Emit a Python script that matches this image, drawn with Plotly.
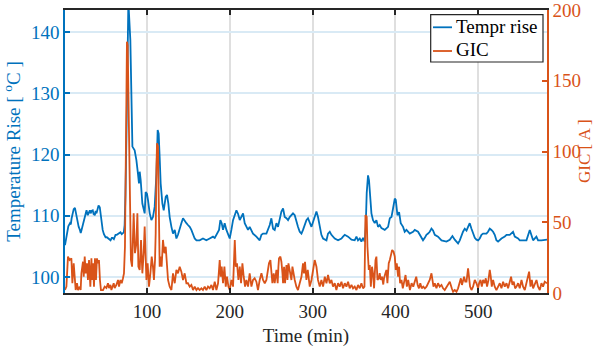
import plotly.graph_objects as go

# ---- Data ----
# Temperature rise [°C] vs time (min): (time, value)
temp_points = [
    (1, 105.2), (2, 105.9), (3, 106.5), (4, 107.7), (5, 108.3), (7, 108.8), (8, 108.6), (9, 109.6),
    (10, 110.4), (11.5, 111.1), (13, 111.3), (14, 110.6), (15, 109.8), (16, 109.0), (17.5, 108.2),
    (19, 107.7), (20, 107.2), (21, 107.7), (22, 108.3), (23.5, 109.0), (25, 109.8), (26, 110.6),
    (27, 110.9), (28.5, 110.1), (29.5, 110.4), (31, 110.9), (32, 110.4), (33, 110.8), (34.5, 110.9),
    (35.5, 110.3), (37, 110.1), (38, 110.8), (39, 110.4), (40.5, 111.3), (41.5, 111.7), (43, 111.4),
    (44, 110.1), (45, 109.0), (46.5, 107.7), (48, 107.0), (49, 106.7), (50, 106.5), (51.5, 106.5),
    (52.5, 106.4), (54, 106.2), (55, 106.2), (56, 106.0), (57.5, 106.4), (58.5, 106.4), (60, 106.2),
    (61, 106.5), (62, 106.9), (63.5, 106.9), (64.5, 107.0), (66, 107.2), (67, 107.3), (68, 107.3),
    (69.5, 107.0), (70.5, 107.2), (72, 107.3), (73, 108.5), (74, 113.4), (75.5, 125.6), (76.5, 145.0),
    (77.5, 145.0), (79.9, 138.7), (81.2, 128.9), (82.4, 121.3), (85.1, 120.7), (87.2, 119.1),
    (89.1, 116.9), (90.3, 115.3), (91.2, 117.2), (92.4, 115.8), (94.4, 112.0), (97.2, 110.4),
    (98.4, 113.9), (100.0, 113.6), (101.2, 112.6), (103.3, 110.4), (105.3, 109.3), (107.2, 109.8),
    (109.3, 111.5), (111.4, 116.9), (112.9, 124.0), (114.1, 123.4), (115.3, 119.6), (116.5, 115.3),
    (118.6, 112.0), (120.2, 110.9), (122.6, 113.1), (124.2, 113.4), (125.8, 112.0), (127.4, 109.8),
    (129.5, 108.2), (131.4, 107.1), (133.5, 107.7), (135.5, 106.3), (137.4, 106.9), (139.5, 107.7),
    (141.5, 108.8), (143.5, 109.6), (145.5, 109.3), (147.6, 108.8), (149.5, 108.5), (151.6, 108.2),
    (153.6, 107.7), (155.6, 106.9), (157.6, 106.3), (159.7, 106.0), (163.6, 106.0), (167.6, 106.3),
    (171.7, 106.0), (175.7, 106.3), (179.7, 106.6), (181.8, 106.4), (183.8, 106.9), (187.0, 107.7),
    (188.6, 109.3), (190.2, 108.8), (191.8, 107.7), (193.8, 108.8), (195.9, 107.7), (197.8, 106.9),
    (199.9, 106.3), (201.9, 107.7), (203.9, 109.3), (208.0, 110.9), (210.0, 110.3), (212.0, 109.3),
    (214.0, 109.8), (216.0, 110.4), (218.0, 108.8), (220.0, 108.2), (222.0, 107.7), (224.0, 108.2),
    (226.1, 107.7), (228.0, 107.1), (232.1, 106.6), (236.1, 106.0), (238.2, 106.9), (240.1, 107.1),
    (244.2, 107.1), (246.1, 107.7), (248.2, 108.5), (250.2, 109.6), (252.2, 107.9), (254.2, 107.7),
    (256.3, 108.8), (258.2, 108.2), (260.3, 109.3), (262.3, 110.7), (264.3, 111.2), (266.3, 109.8),
    (268.4, 109.6), (270.3, 109.3), (272.3, 109.8), (274.4, 110.1), (276.3, 110.4), (278.4, 110.1),
    (280.4, 109.0), (282.3, 108.2), (284.4, 107.4), (286.5, 107.1), (288.4, 107.7), (290.5, 108.5),
    (292.5, 109.3), (294.4, 109.6), (296.5, 108.8), (298.6, 108.2), (300.5, 109.0), (302.5, 109.8),
    (304.6, 110.7), (306.5, 109.8), (308.6, 107.9), (310.6, 106.9), (312.6, 106.3), (316.7, 106.0),
    (318.6, 107.1), (320.7, 107.4), (322.7, 106.9), (324.6, 106.6), (326.7, 106.3), (330.7, 106.0),
    (334.8, 106.3), (336.7, 106.6), (338.8, 106.9), (342.8, 106.6), (346.9, 106.1), (350.8, 106.0),
    (352.9, 106.6), (354.8, 106.0), (356.9, 106.3), (358.9, 105.8), (360.9, 106.4), (362.9, 105.8),
    (364.1, 108.2), (365.3, 113.7), (366.9, 116.6), (368.1, 115.8), (369.3, 112.6), (371.0, 110.4),
    (372.9, 109.3), (375.0, 108.8), (377.0, 109.3), (379.0, 108.2), (381.0, 108.5), (383.1, 108.0),
    (387.1, 107.7), (391.1, 108.2), (393.2, 109.6), (395.2, 109.8), (397.1, 111.2), (399.2, 112.8),
    (400.4, 112.6), (402.4, 110.1), (404.4, 110.6), (406.4, 108.8), (409.2, 108.2), (411.2, 107.4),
    (413.3, 107.7), (417.3, 107.1), (421.3, 107.4), (423.3, 107.7), (427.3, 107.4), (429.3, 106.9),
    (431.4, 106.6), (433.3, 106.0), (435.4, 106.4), (437.4, 106.9), (439.4, 107.1), (441.4, 107.4),
    (443.5, 107.9), (445.4, 107.6), (447.5, 106.9), (451.4, 106.6), (455.6, 106.0), (459.5, 105.8),
    (461.6, 105.8), (465.6, 106.1), (468.8, 106.7), (471.6, 106.1), (473.7, 105.8), (475.6, 105.5),
    (477.7, 106.0), (479.8, 106.9), (481.6, 107.4), (483.7, 107.9), (485.8, 107.6), (487.7, 108.2),
    (489.7, 108.8), (491.8, 107.9), (493.7, 107.1), (495.8, 106.4), (497.8, 106.1), (499.8, 106.0),
    (501.8, 106.3), (503.9, 106.9), (505.8, 107.1), (509.9, 107.1), (511.8, 107.4), (513.9, 107.9),
    (515.9, 107.7), (517.9, 107.4), (519.9, 106.9), (521.9, 106.0), (523.9, 105.8), (528.0, 106.3),
    (532.0, 106.6), (534.1, 106.9), (538.0, 106.9), (540.1, 107.1), (542.0, 107.4), (544.1, 106.6),
    (548.1, 106.3), (550.1, 106.0), (554.1, 106.0), (558.2, 106.0), (562.2, 107.7), (564.2, 106.9),
    (566.2, 106.0), (570.2, 106.6), (572.2, 106.0), (576.3, 106.0), (580.3, 106.0), (583.0, 106.1),
]

# GIC [A] vs time (min): (time, value)
gic_points = [
    (1, 2.1), (2.7, 4.5), (4.6, 25.7), (6.6, 23.3), (8.7, 24.5), (9.9, 6.9), (11.5, 21.0), (12.7, 9.2),
    (13.9, 2.1), (15.5, 6.9), (16.7, 2.1), (18.7, 4.5), (19.9, 2.1), (20.8, 13.9), (22.7, 22.1),
    (23.6, 11.5), (24.8, 25.7), (26.0, 13.9), (27.5, 21.0), (28.7, 9.2), (30.0, 23.3), (31.6, 4.5),
    (32.9, 24.5), (33.8, 9.2), (34.8, 21.0), (36.0, 4.5), (37.2, 24.5), (38.4, 9.2), (39.6, 24.5),
    (40.8, 21.0), (42.0, 23.3), (43.2, 9.2), (44.4, 2.1), (46.9, 2.1), (48.9, 4.5), (51.0, 3.5),
    (52.9, 6.9), (54.1, 3.5), (55.8, 5.7), (57.0, 2.1), (58.2, 4.5), (59.8, 6.9), (61.0, 3.5),
    (63.0, 5.7), (65.0, 9.2), (66.2, 4.5), (67.9, 9.2), (69.5, 6.9), (71.0, 10.4), (72.2, 13.9),
    (73.4, 32.7), (74.6, 120.0), (75.8, 177.6), (76.7, 175.0), (78.0, 130.0), (79.4, 66.0),
    (80.6, 23.3), (82.0, 18.6), (83.9, 56.3), (85.5, 28.1), (87.2, 35.1), (88.4, 56.3), (89.6, 18.6),
    (91.2, 16.3), (92.8, 37.5), (94.4, 13.9), (96.0, 28.1), (97.2, 46.9), (98.4, 28.1), (99.3, 9.2),
    (100.8, 21.0), (102.4, 4.5), (104.1, 13.9), (105.7, 25.7), (107.2, 18.6), (108.4, 9.2),
    (109.7, 23.3), (110.5, 42.2), (111.4, 86.9), (112.1, 105.8), (113.3, 103.4), (114.1, 75.1),
    (115.3, 18.6), (116.5, 25.7), (117.7, 18.6), (119.3, 37.5), (121.0, 28.1), (122.6, 32.7),
    (124.2, 18.6), (125.4, 9.2), (127.4, 4.5), (129.5, 2.1), (131.4, 13.9), (133.5, 6.9),
    (135.5, 16.3), (137.4, 13.9), (139.5, 18.6), (141.5, 15.1), (143.5, 9.2), (145.5, 13.9),
    (147.6, 6.9), (149.5, 6.9), (151.6, 4.5), (153.6, 5.7), (155.6, 2.1), (157.6, 4.5), (159.7, 2.1),
    (161.6, 3.5), (163.6, 2.1), (165.7, 3.3), (167.6, 2.1), (169.7, 4.5), (171.7, 2.1), (173.7, 4.5),
    (175.7, 3.3), (177.8, 5.7), (179.7, 2.1), (181.8, 8.0), (183.8, 2.1), (185.8, 6.9), (187.8, 23.3),
    (189.0, 11.5), (190.2, 18.6), (191.8, 6.9), (193.5, 18.6), (195.1, 4.5), (196.6, 11.5),
    (198.3, 4.5), (199.9, 2.1), (201.9, 9.2), (203.9, 4.5), (206.0, 37.5), (207.2, 18.6),
    (208.7, 21.0), (210.4, 9.2), (212.0, 18.6), (213.6, 6.9), (215.2, 21.0), (216.8, 11.5),
    (218.4, 4.5), (220.0, 9.2), (222.0, 4.5), (224.0, 13.9), (226.1, 4.5), (228.0, 9.2), (230.0, 10.4),
    (232.1, 8.0), (234.0, 2.1), (236.1, 9.2), (238.2, 13.9), (240.1, 9.2), (242.2, 6.9), (244.2, 9.2),
    (246.1, 15.1), (247.3, 21.0), (249.0, 23.3), (250.2, 16.3), (251.4, 6.9), (253.0, 13.9),
    (254.2, 6.9), (256.3, 16.3), (257.8, 6.9), (258.7, 18.6), (259.4, 24.5), (261.1, 25.7),
    (262.3, 22.1), (263.6, 13.9), (264.3, 6.9), (265.5, 18.6), (266.7, 6.9), (268.4, 19.8),
    (269.6, 9.2), (270.8, 21.0), (272.3, 16.3), (274.4, 9.2), (275.6, 18.6), (276.8, 13.9),
    (278.4, 9.2), (280.4, 4.5), (282.3, 2.1), (284.4, 6.9), (286.5, 11.5), (288.4, 21.0),
    (289.6, 13.9), (290.8, 22.1), (292.5, 9.2), (294.1, 16.3), (295.7, 6.9), (296.5, 4.5),
    (298.6, 9.2), (300.5, 16.3), (302.5, 23.3), (304.6, 18.6), (306.5, 9.2), (308.6, 4.5),
    (310.6, 9.2), (312.6, 4.5), (314.7, 11.5), (316.7, 6.9), (318.6, 12.7), (320.7, 6.9),
    (322.7, 9.2), (324.6, 4.5), (326.7, 6.9), (328.7, 2.1), (330.7, 6.9), (332.7, 4.5), (334.8, 8.0),
    (336.7, 3.3), (338.8, 6.9), (340.8, 4.5), (342.8, 8.0), (344.8, 3.3), (346.9, 5.7), (348.8, 3.3),
    (350.8, 4.5), (352.9, 2.1), (354.8, 5.7), (356.9, 3.3), (358.9, 6.9), (360.9, 3.3), (362.6, 4.5),
    (363.8, 55.1), (365.3, 53.9), (366.2, 32.7), (367.8, 16.3), (369.0, 19.8), (370.3, 4.5),
    (371.7, 18.6), (372.9, 13.9), (374.2, 3.3), (375.9, 23.3), (377.0, 25.7), (378.3, 9.2),
    (379.8, 10.4), (381.0, 14.0), (382.2, 9.2), (383.8, 11.5), (385.3, 6.0), (386.2, 10.4),
    (387.9, 13.9), (389.1, 16.3), (390.3, 6.9), (391.9, 21.0), (393.2, 23.3), (394.4, 25.7),
    (396.0, 30.4), (397.7, 29.2), (399.2, 25.7), (400.4, 16.3), (401.6, 21.0), (403.2, 11.5),
    (404.4, 18.6), (405.6, 6.9), (407.3, 9.2), (408.9, 3.3), (410.5, 9.2), (412.2, 12.7),
    (413.8, 4.5), (415.4, 9.2), (417.5, 2.1), (419.5, 6.9), (421.5, 4.5), (423.5, 9.2), (425.1, 11.5),
    (426.8, 5.7), (428.4, 3.3), (430.0, 6.9), (431.7, 3.3), (433.6, 4.5), (435.5, 3.3), (437.5, 4.5),
    (439.4, 6.9), (441.4, 9.2), (443.5, 13.9), (445.9, 4.5), (447.5, 6.9), (449.5, 3.3), (451.4, 6.9),
    (453.5, 4.5), (455.6, 5.7), (457.5, 3.3), (459.5, 2.1), (461.6, 4.5), (463.6, 5.7), (465.6, 8.0),
    (468.0, 3.3), (469.6, 0.9), (471.6, 2.1), (473.7, 0.9), (475.6, 3.3), (477.7, 9.2), (479.0, 10.4),
    (480.3, 5.7), (481.7, 9.2), (482.9, 11.5), (484.3, 8.0), (485.8, 8.0), (487.7, 17.5),
    (488.9, 12.7), (490.1, 4.5), (491.8, 2.1), (493.7, 4.5), (495.8, 9.2), (497.8, 6.9), (499.8, 3.3),
    (501.0, 6.9), (502.7, 9.2), (504.3, 4.5), (505.8, 9.2), (507.5, 6.9), (509.1, 10.4), (510.6, 4.5),
    (512.3, 9.2), (513.9, 16.3), (515.1, 11.5), (516.3, 4.5), (517.9, 9.2), (519.9, 4.5), (521.9, 2.1),
    (523.9, 4.5), (526.0, 6.9), (528.0, 3.3), (530.0, 8.0), (532.0, 4.5), (534.1, 6.9), (536.0, 3.3),
    (538.0, 9.2), (539.6, 11.5), (541.3, 5.7), (542.9, 8.0), (544.5, 3.3), (546.2, 4.5), (548.1, 6.9),
    (550.1, 3.3), (552.2, 9.2), (554.1, 4.5), (556.2, 2.1), (558.2, 6.9), (559.8, 11.5), (561.4, 15.1),
    (563.1, 4.5), (564.7, 9.2), (566.2, 3.3), (568.3, 6.9), (570.3, 9.2), (572.2, 4.5), (574.3, 2.1),
    (576.3, 6.9), (578.2, 4.5), (580.3, 8.0), (583.0, 6.9),
]

temp_time = [p[0] for p in temp_points]
temp_rise = [p[1] for p in temp_points]
gic_time = [p[0] for p in gic_points]
gic_values = [p[1] for p in gic_points]

x_ticks = [100, 200, 300, 400, 500]
temp_ticks = [100, 110, 120, 130, 140]
gic_ticks = [0, 50, 100, 150, 200]
series_names = ["Tempr rise", "GIC"]

BLUE = "#0072BD"
ORANGE = "#D95319"
DARK = "#262626"
FONT = "Liberation Serif"
FS = 19

fig = go.Figure()
fig.add_trace(go.Scatter(x=temp_time, y=temp_rise, mode="lines", name=series_names[0],
                         line=dict(color=BLUE, width=1.8), yaxis="y", showlegend=False))
fig.add_trace(go.Scatter(x=gic_time, y=gic_values, mode="lines", name=series_names[1],
                         line=dict(color=ORANGE, width=1.8), yaxis="y2", showlegend=False))

# Compact MATLAB-style legend box (drawn in paper coordinates)
legend_box = dict(type="rect", xref="paper", yref="paper", x0=0.7587, x1=0.9917, y0=0.8163, y1=0.9834,
                  line=dict(color=DARK, width=1.2), fillcolor="white", layer="above")
legend_rows = [0.9389, 0.8551]
legend_colors = [BLUE, ORANGE]
shapes = [legend_box]
annotations = []
for name, col, yy in zip(series_names, legend_colors, legend_rows):
    shapes.append(dict(type="line", xref="paper", yref="paper", x0=0.7635, x1=0.8029, y0=yy, y1=yy,
                       line=dict(color=col, width=1.8), layer="above"))
    annotations.append(dict(text=name, xref="paper", yref="paper", x=0.8071, y=yy + 0.004,
                            xanchor="left", yanchor="middle", showarrow=False,
                            font=dict(family=FONT, size=FS, color="black")))

# right-hand axis title, placed at the far right edge like the reference
annotations.append(dict(text="GIC [ A ]", xref="paper", yref="paper", x=1, y=0.5,
                        xanchor="right", yanchor="middle", xshift=49, textangle=-90,
                        showarrow=False, font=dict(family=FONT, size=17, color=ORANGE)))

fig.update_layout(
    template="none",
    width=596, height=347,
    margin=dict(l=65, r=49, t=10, b=54, autoexpand=False),
    paper_bgcolor="white", plot_bgcolor="white",
    font=dict(family=FONT, size=FS, color=DARK),
    xaxis=dict(
        range=[1, 583], tickvals=x_ticks, ticks="inside", ticklen=5, tickwidth=1.5,
        tickcolor=DARK, showline=True, linecolor=DARK, linewidth=1.5, mirror="ticks",
        showgrid=True, gridcolor="#dfdfdf", gridwidth=1.5, zeroline=False, automargin=False,
        ticklabeloverflow="allow",
        tickfont=dict(family=FONT, size=FS, color=DARK),
        title=dict(text="Time (min)", font=dict(family=FONT, size=FS, color=DARK)),
    ),
    yaxis=dict(
        range=[97.4, 143.6], tickvals=temp_ticks, ticks="inside", ticklen=5, tickwidth=1.5,
        tickcolor=BLUE, showline=True, linecolor=BLUE, linewidth=1.5, automargin=False,
        showgrid=True, gridcolor="#d9eaf5", gridwidth=1.5, zeroline=False,
        ticklabeloverflow="allow",
        tickfont=dict(family=FONT, size=FS, color=BLUE),
        title=dict(text="Temperature Rise [ <sup>o</sup>C ]", font=dict(family=FONT, size=FS, color=BLUE)),
    ),
    yaxis2=dict(
        range=[0, 200], tickvals=gic_ticks, ticks="inside", ticklen=5, tickwidth=1.5,
        tickcolor=ORANGE, showline=True, linecolor=ORANGE, linewidth=1.5, automargin=False,
        overlaying="y", side="right", showgrid=False, zeroline=False,
        ticklabeloverflow="allow",
        tickfont=dict(family=FONT, size=FS, color=ORANGE),
    ),
    shapes=shapes,
    annotations=annotations,
    showlegend=False,
)

# remove the browser's default 8px page margin so the figure sits at the window origin
fig.write_html("out.html", config={"displayModeBar": False},
               post_script="document.body.style.margin='0px';")
